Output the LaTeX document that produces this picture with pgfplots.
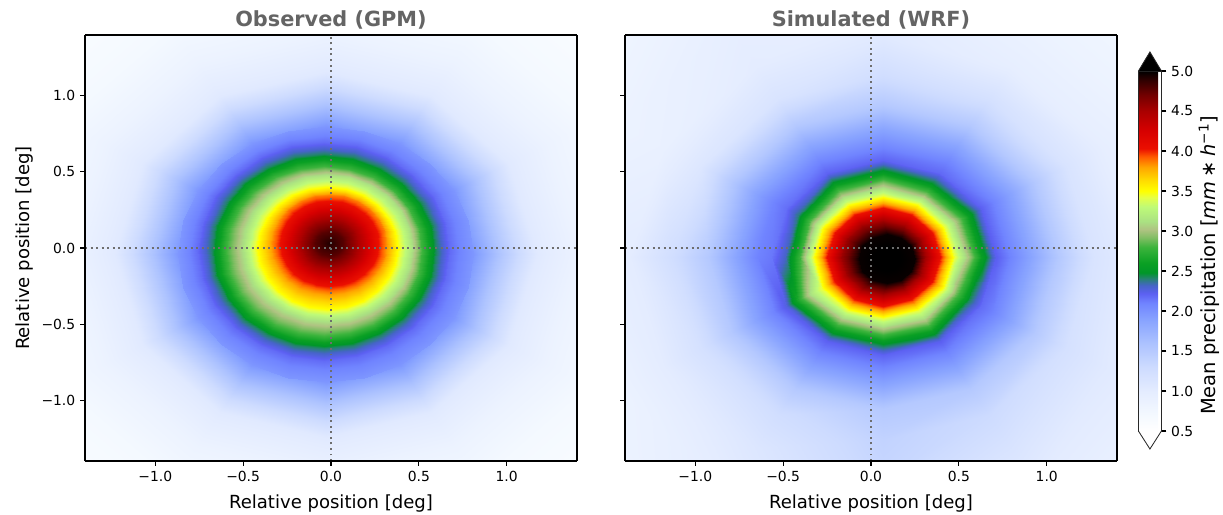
\documentclass[border=0pt]{standalone}
\usepackage{fontspec}
\setmainfont{DejaVu Sans}
\usepackage{pgfplots}
\usepackage{pgfplotstable}
\pgfplotsset{compat=1.18}

\definecolor{titlegray}{RGB}{100,100,100}
\definecolor{crossgray}{RGB}{110,110,110}
\definecolor{framegray}{RGB}{40,40,40}

% precipitation colour scale, positions in hundredths of mm/h
\pgfplotsset{
  colormap={precip}{
    rgb255(50pt)=(255,255,255)
    rgb255(70pt)=(244,249,255)
    rgb255(100pt)=(228,236,255)
    rgb255(130pt)=(205,219,255)
    rgb255(160pt)=(172,194,255)
    rgb255(190pt)=(135,162,255)
    rgb255(210pt)=(112,132,255)
    rgb255(222pt)=(92,96,242)
    rgb255(232pt)=(70,100,200)
    rgb255(240pt)=(40,128,120)
    rgb255(248pt)=(0,150,40)
    rgb255(260pt)=(10,160,35)
    rgb255(280pt)=(60,180,60)
    rgb255(292pt)=(130,190,100)
    rgb255(302pt)=(175,195,130)
    rgb255(312pt)=(170,225,130)
    rgb255(330pt)=(190,250,120)
    rgb255(342pt)=(230,255,70)
    rgb255(350pt)=(255,255,0)
    rgb255(365pt)=(255,215,0)
    rgb255(380pt)=(255,165,0)
    rgb255(393pt)=(255,90,0)
    rgb255(403pt)=(235,15,0)
    rgb255(425pt)=(215,0,0)
    rgb255(450pt)=(170,0,0)
    rgb255(470pt)=(115,0,0)
    rgb255(488pt)=(50,0,0)
    rgb255(500pt)=(0,0,0)
  },
}

% GPM composite, core: rings of 25 points (closed), centre outwards
\pgfplotstableread{
x y v
-0.01 0.03 4.92
-0.01 0.03 4.92
-0.01 0.03 4.92
-0.01 0.03 4.92
-0.01 0.03 4.92
-0.01 0.03 4.92
-0.01 0.03 4.92
-0.01 0.03 4.92
-0.01 0.03 4.92
-0.01 0.03 4.92
-0.01 0.03 4.92
-0.01 0.03 4.92
-0.01 0.03 4.92
-0.01 0.03 4.92
-0.01 0.03 4.92
-0.01 0.03 4.92
-0.01 0.03 4.92
-0.01 0.03 4.92
-0.01 0.03 4.92
-0.01 0.03 4.92
-0.01 0.03 4.92
-0.01 0.03 4.92
-0.01 0.03 4.92
-0.01 0.03 4.92
-0.01 0.03 4.92
0.07 0.03 4.78
0.0673 0.0507 4.78
0.0593 0.07 4.78
0.0466 0.0866 4.78
0.03 0.0993 4.78
0.0107 0.1073 4.78
-0.01 0.11 4.78
-0.0307 0.1073 4.78
-0.05 0.0993 4.78
-0.0666 0.0866 4.78
-0.0793 0.07 4.78
-0.0873 0.0507 4.78
-0.09 0.03 4.78
-0.0873 0.0093 4.78
-0.0793 -0.01 4.78
-0.0666 -0.0266 4.78
-0.05 -0.0393 4.78
-0.0307 -0.0473 4.78
-0.01 -0.05 4.78
0.0107 -0.0473 4.78
0.03 -0.0393 4.78
0.0466 -0.0266 4.78
0.0593 -0.01 4.78
0.0673 0.0093 4.78
0.07 0.03 4.78
0.15 0.03 4.52
0.1445 0.0714 4.52
0.1286 0.11 4.52
0.1031 0.1431 4.52
0.07 0.1686 4.52
0.0314 0.1845 4.52
-0.01 0.19 4.52
-0.0514 0.1845 4.52
-0.09 0.1686 4.52
-0.1231 0.1431 4.52
-0.1486 0.11 4.52
-0.1645 0.0714 4.52
-0.17 0.03 4.52
-0.1645 -0.0114 4.52
-0.1486 -0.05 4.52
-0.1231 -0.0831 4.52
-0.09 -0.1086 4.52
-0.0514 -0.1245 4.52
-0.01 -0.13 4.52
0.0314 -0.1245 4.52
0.07 -0.1086 4.52
0.1031 -0.0831 4.52
0.1286 -0.05 4.52
0.1445 -0.0114 4.52
0.15 0.03 4.52
0.23 0.03 4.20
0.2218 0.0921 4.20
0.1978 0.15 4.20
0.1597 0.1997 4.20
0.11 0.2378 4.20
0.0521 0.2618 4.20
-0.01 0.27 4.20
-0.0721 0.2618 4.20
-0.13 0.2378 4.20
-0.1797 0.1997 4.20
-0.2178 0.15 4.20
-0.2418 0.0921 4.20
-0.25 0.03 4.20
-0.2418 -0.0321 4.20
-0.2178 -0.09 4.20
-0.1797 -0.1397 4.20
-0.13 -0.1778 4.20
-0.0721 -0.2018 4.20
-0.01 -0.21 4.20
0.0521 -0.2018 4.20
0.11 -0.1778 4.20
0.1597 -0.1397 4.20
0.1978 -0.09 4.20
0.2218 -0.0321 4.20
0.23 0.03 4.20
0.31 0.03 3.87
0.2991 0.1128 3.87
0.2671 0.19 3.87
0.2163 0.2563 3.87
0.15 0.3071 3.87
0.0728 0.3391 3.87
-0.01 0.35 3.87
-0.0928 0.3391 3.87
-0.17 0.3071 3.87
-0.2363 0.2563 3.87
-0.2871 0.19 3.87
-0.3191 0.1128 3.87
-0.33 0.03 3.87
-0.3191 -0.0528 3.87
-0.2871 -0.13 3.87
-0.2363 -0.1963 3.87
-0.17 -0.2471 3.87
-0.0928 -0.2791 3.87
-0.01 -0.29 3.87
0.0728 -0.2791 3.87
0.15 -0.2471 3.87
0.2163 -0.1963 3.87
0.2671 -0.13 3.87
0.2991 -0.0528 3.87
0.31 0.03 3.87
0.38 0 3.50
0.3664 0.1035 3.50
0.3264 0.2 3.50
0.2628 0.2828 3.50
0.18 0.3464 3.50
0.0835 0.3864 3.50
-0.02 0.4 3.50
-0.1235 0.3864 3.50
-0.22 0.3464 3.50
-0.3028 0.2828 3.50
-0.3664 0.2 3.50
-0.4064 0.1035 3.50
-0.42 0 3.50
-0.4064 -0.1035 3.50
-0.3664 -0.2 3.50
-0.3028 -0.2828 3.50
-0.22 -0.3464 3.50
-0.1235 -0.3864 3.50
-0.02 -0.4 3.50
0.0835 -0.3864 3.50
0.18 -0.3464 3.50
0.2628 -0.2828 3.50
0.3264 -0.2 3.50
0.3664 -0.1035 3.50
0.38 0 3.50
0.46 0 3.13
0.4436 0.1242 3.13
0.3957 0.24 3.13
0.3194 0.3394 3.13
0.22 0.4157 3.13
0.1042 0.4636 3.13
-0.02 0.48 3.13
-0.1442 0.4636 3.13
-0.26 0.4157 3.13
-0.3594 0.3394 3.13
-0.4357 0.24 3.13
-0.4836 0.1242 3.13
-0.5 0 3.13
-0.4836 -0.1242 3.13
-0.4357 -0.24 3.13
-0.3594 -0.3394 3.13
-0.26 -0.4157 3.13
-0.1442 -0.4636 3.13
-0.02 -0.48 3.13
0.1042 -0.4636 3.13
0.22 -0.4157 3.13
0.3194 -0.3394 3.13
0.3957 -0.24 3.13
0.4436 -0.1242 3.13
0.46 0 3.13
0.52 -0.02 2.80
0.5009 0.1249 2.80
0.445 0.26 2.80
0.356 0.376 2.80
0.24 0.465 2.80
0.1049 0.5209 2.80
-0.04 0.54 2.80
-0.1849 0.5209 2.80
-0.32 0.465 2.80
-0.436 0.376 2.80
-0.525 0.26 2.80
-0.5809 0.1249 2.80
-0.6 -0.02 2.80
-0.5809 -0.1649 2.80
-0.525 -0.30 2.80
-0.436 -0.416 2.80
-0.32 -0.505 2.80
-0.1849 -0.5609 2.80
-0.04 -0.58 2.80
0.1049 -0.5609 2.80
0.24 -0.505 2.80
0.356 -0.416 2.80
0.445 -0.30 2.80
0.5009 -0.1649 2.80
0.52 -0.02 2.80
0.60 -0.02 2.42
0.5782 0.1456 2.42
0.5142 0.30 2.42
0.4125 0.4325 2.42
0.28 0.5342 2.42
0.1256 0.5982 2.42
-0.04 0.62 2.42
-0.2056 0.5982 2.42
-0.36 0.5342 2.42
-0.4925 0.4325 2.42
-0.5942 0.30 2.42
-0.6582 0.1456 2.42
-0.68 -0.02 2.42
-0.6582 -0.1856 2.42
-0.5942 -0.34 2.42
-0.4925 -0.4725 2.42
-0.36 -0.5742 2.42
-0.2056 -0.6382 2.42
-0.04 -0.66 2.42
0.1256 -0.6382 2.42
0.28 -0.5742 2.42
0.4125 -0.4725 2.42
0.5142 -0.34 2.42
0.5782 -0.1856 2.42
0.60 -0.02 2.42
0.68 -0.02 2.18
0.6554 0.1663 2.18
0.5835 0.34 2.18
0.4691 0.4891 2.18
0.32 0.6035 2.18
0.1463 0.6754 2.18
-0.04 0.70 2.18
-0.2263 0.6754 2.18
-0.40 0.6035 2.18
-0.5491 0.4891 2.18
-0.6635 0.34 2.18
-0.7354 0.1663 2.18
-0.76 -0.02 2.18
-0.7354 -0.2063 2.18
-0.6635 -0.38 2.18
-0.5491 -0.5291 2.18
-0.40 -0.6435 2.18
-0.2263 -0.7154 2.18
-0.04 -0.74 2.18
0.1463 -0.7154 2.18
0.32 -0.6435 2.18
0.4691 -0.5291 2.18
0.5835 -0.38 2.18
0.6554 -0.2063 2.18
0.68 -0.02 2.18
0.81 -0.04 1.98
0.7814 0.1774 1.98
0.6974 0.38 1.98
0.564 0.554 1.98
0.39 0.6874 1.98
0.1874 0.7714 1.98
-0.03 0.80 1.98
-0.2474 0.7714 1.98
-0.45 0.6874 1.98
-0.624 0.554 1.98
-0.7574 0.38 1.98
-0.8414 0.1774 1.98
-0.87 -0.04 1.98
-0.8414 -0.2574 1.98
-0.7574 -0.46 1.98
-0.624 -0.634 1.98
-0.45 -0.7674 1.98
-0.2474 -0.8514 1.98
-0.03 -0.88 1.98
0.1874 -0.8514 1.98
0.39 -0.7674 1.98
0.564 -0.634 1.98
0.6974 -0.46 1.98
0.7814 -0.2574 1.98
0.81 -0.04 1.98
}\gpmcore

% GPM composite, outer field: rings of 13 points (closed)
\pgfplotstableread{
x y v
0.81 -0.04 1.98
0.6974 0.38 1.98
0.39 0.6874 1.98
-0.03 0.8 1.98
-0.45 0.6874 1.98
-0.7574 0.38 1.98
-0.87 -0.04 1.98
-0.7574 -0.46 1.98
-0.45 -0.7674 1.98
-0.03 -0.88 1.98
0.39 -0.7674 1.98
0.6974 -0.46 1.98
0.81 -0.04 1.98
0.97 -0.04 1.55
0.836 0.46 1.55
0.47 0.826 1.55
-0.03 0.96 1.55
-0.53 0.826 1.55
-0.896 0.46 1.55
-1.03 -0.04 1.55
-0.896 -0.54 1.55
-0.53 -0.906 1.55
-0.03 -1.04 1.55
0.47 -0.906 1.55
0.836 -0.54 1.55
0.97 -0.04 1.55
1.17 -0.04 1.05
1.0092 0.56 1.05
0.57 0.9992 1.05
-0.03 1.16 1.05
-0.63 0.9992 1.05
-1.0692 0.56 1.05
-1.23 -0.04 1.05
-1.0692 -0.64 1.05
-0.63 -1.0792 1.05
-0.03 -1.24 1.05
0.57 -1.0792 1.05
1.0092 -0.64 1.05
1.17 -0.04 1.05
1.42 -0.04 0.85
1.2257 0.685 0.85
0.695 1.2157 0.85
-0.03 1.41 0.85
-0.755 1.2157 0.85
-1.2857 0.685 0.85
-1.48 -0.04 0.85
-1.2857 -0.765 0.85
-0.755 -1.2957 0.85
-0.03 -1.49 0.85
0.695 -1.2957 0.85
1.2257 -0.765 0.85
1.42 -0.04 0.85
1.72 -0.04 0.70
1.4855 0.835 0.70
0.845 1.4755 0.70
-0.03 1.71 0.70
-0.905 1.4755 0.70
-1.5455 0.835 0.70
-1.78 -0.04 0.70
-1.5455 -0.915 0.70
-0.905 -1.5555 0.70
-0.03 -1.79 0.70
0.845 -1.5555 0.70
1.4855 -0.915 0.70
1.72 -0.04 0.70
2.17 -0.04 0.60
1.8752 1.06 0.60
1.07 1.8652 0.60
-0.03 2.16 0.60
-1.13 1.8652 0.60
-1.9352 1.06 0.60
-2.23 -0.04 0.60
-1.9352 -1.14 0.60
-1.13 -1.9452 0.60
-0.03 -2.24 0.60
1.07 -1.9452 0.60
1.8752 -1.14 0.60
2.17 -0.04 0.60
}\gpmouter

% WRF composite: rings of 13 points (closed), centre outwards
\pgfplotstableread{
x y v
0.09 -0.07 5.5
0.09 -0.07 5.5
0.09 -0.07 5.5
0.09 -0.07 5.5
0.09 -0.07 5.5
0.09 -0.07 5.5
0.09 -0.07 5.5
0.09 -0.07 5.5
0.09 -0.07 5.5
0.09 -0.07 5.5
0.09 -0.07 5.5
0.09 -0.07 5.5
0.09 -0.07 5.5
0.17 -0.07 5.25
0.1593 -0.03 5.25
0.13 -0.0007 5.25
0.09 0.01 5.25
0.05 -0.0007 5.25
0.0207 -0.03 5.25
0.01 -0.07 5.25
0.0207 -0.11 5.25
0.05 -0.1393 5.25
0.09 -0.15 5.25
0.13 -0.1393 5.25
0.1593 -0.11 5.25
0.17 -0.07 5.25
0.25 -0.07 4.98
0.2286 0.01 4.98
0.17 0.0686 4.98
0.09 0.09 4.98
0.01 0.0686 4.98
-0.0486 0.01 4.98
-0.07 -0.07 4.98
-0.0486 -0.15 4.98
0.01 -0.2086 4.98
0.09 -0.23 4.98
0.17 -0.2086 4.98
0.2286 -0.15 4.98
0.25 -0.07 4.98
0.31 -0.06 4.55
0.2778 0.06 4.55
0.19 0.1478 4.55
0.07 0.18 4.55
-0.05 0.1478 4.55
-0.1378 0.06 4.55
-0.17 -0.06 4.55
-0.1378 -0.18 4.55
-0.05 -0.2678 4.55
0.07 -0.3 4.55
0.19 -0.2678 4.55
0.2778 -0.18 4.55
0.31 -0.06 4.55
0.39 -0.06 4.05
0.3471 0.1 4.05
0.23 0.2171 4.05
0.07 0.26 4.05
-0.09 0.2171 4.05
-0.2071 0.1 4.05
-0.25 -0.06 4.05
-0.2071 -0.22 4.05
-0.09 -0.3371 4.05
0.07 -0.38 4.05
0.23 -0.3371 4.05
0.3471 -0.22 4.05
0.39 -0.06 4.05
0.47 -0.06 3.45
0.4164 0.14 3.45
0.27 0.2864 3.45
0.07 0.34 3.45
-0.13 0.2864 3.45
-0.2764 0.14 3.45
-0.33 -0.06 3.45
-0.2764 -0.26 3.45
-0.13 -0.4064 3.45
0.07 -0.46 3.45
0.27 -0.4064 3.45
0.4164 -0.26 3.45
0.47 -0.06 3.45
0.55 -0.06 3.02
0.4857 0.18 3.00
0.31 0.3557 2.92
0.07 0.42 2.98
-0.17 0.3557 2.96
-0.3457 0.18 2.84
-0.41 -0.06 2.77
-0.3457 -0.3 3.12
-0.17 -0.4757 3.00
0.07 -0.54 2.98
0.31 -0.4757 3.04
0.4857 -0.3 2.88
0.55 -0.06 3.02
0.63 -0.06 2.57
0.555 0.22 2.55
0.35 0.425 2.47
0.07 0.5 2.53
-0.21 0.425 2.51
-0.415 0.22 2.39
-0.49 -0.06 2.32
-0.415 -0.34 2.67
-0.21 -0.545 2.55
0.07 -0.62 2.53
0.35 -0.545 2.59
0.555 -0.34 2.43
0.63 -0.06 2.57
0.71 -0.06 2.23
0.6242 0.26 2.22
0.39 0.4942 2.19
0.07 0.58 2.21
-0.25 0.4942 2.21
-0.4842 0.26 2.17
-0.57 -0.06 2.14
-0.4842 -0.38 2.26
-0.25 -0.6142 2.22
0.07 -0.7 2.21
0.39 -0.6142 2.23
0.6242 -0.38 2.18
0.71 -0.06 2.23
0.79 -0.06 2.10
0.6935 0.3 2.10
0.43 0.5635 2.10
0.07 0.66 2.10
-0.29 0.5635 2.10
-0.5535 0.3 2.10
-0.65 -0.06 2.10
-0.5535 -0.42 2.10
-0.29 -0.6835 2.10
0.07 -0.78 2.10
0.43 -0.6835 2.10
0.6935 -0.42 2.10
0.79 -0.06 2.10
0.91 -0.06 1.88
0.7974 0.36 1.88
0.49 0.6674 1.88
0.07 0.78 1.88
-0.35 0.6674 1.88
-0.6574 0.36 1.88
-0.77 -0.06 1.88
-0.6574 -0.48 1.88
-0.35 -0.7874 1.88
0.07 -0.9 1.88
0.49 -0.7874 1.88
0.7974 -0.48 1.88
0.91 -0.06 1.88
1.07 -0.06 1.52
0.936 0.44 1.52
0.57 0.806 1.52
0.07 0.94 1.52
-0.43 0.806 1.52
-0.796 0.44 1.52
-0.93 -0.06 1.52
-0.796 -0.56 1.52
-0.43 -0.926 1.52
0.07 -1.06 1.52
0.57 -0.926 1.52
0.936 -0.56 1.52
1.07 -0.06 1.52
1.27 -0.06 1.15
1.1092 0.54 1.15
0.67 0.9792 1.20
0.07 1.14 1.25
-0.53 0.9792 1.15
-0.9692 0.54 1.10
-1.13 -0.06 1.25
-0.9692 -0.66 1.20
-0.53 -1.0992 1.25
0.07 -1.26 1.40
0.67 -1.0992 1.30
1.1092 -0.66 1.20
1.27 -0.06 1.15
1.52 -0.06 1.00
1.3257 0.665 0.95
0.795 1.1957 0.95
0.07 1.39 1.05
-0.655 1.1957 1.00
-1.1857 0.665 0.90
-1.38 -0.06 1.00
-1.1857 -0.785 1.00
-0.655 -1.3157 1.10
0.07 -1.51 1.35
0.795 -1.3157 1.15
1.3257 -0.785 1.05
1.52 -0.06 1.00
1.82 -0.06 0.95
1.5855 0.815 0.85
0.945 1.4555 0.85
0.07 1.69 0.90
-0.805 1.4555 0.95
-1.4455 0.815 0.85
-1.68 -0.06 0.90
-1.4455 -0.935 0.85
-0.805 -1.5755 1.00
0.07 -1.81 1.20
0.945 -1.5755 1.00
1.5855 -0.935 0.95
1.82 -0.06 0.95
2.27 -0.06 0.80
1.9752 1.04 0.75
1.17 1.8452 0.75
0.07 2.14 0.85
-1.03 1.8452 0.85
-1.8352 1.04 0.75
-2.13 -0.06 0.75
-1.8352 -1.16 0.75
-1.03 -1.9652 0.85
0.07 -2.26 1.00
1.17 -1.9652 0.85
1.9752 -1.16 0.80
2.27 -0.06 0.80
}\wrffield

\begin{document}
\begin{tikzpicture}
\pgfplotsset{
  panel/.style={
    view={0}{90},
    scale only axis,
    width=354.24pt, height=306.72pt,
    xmin=-1.4, xmax=1.4, ymin=-1.4, ymax=1.4,
    colormap name=precip,
    point meta min=0.5, point meta max=5,
    xtick={-1,-0.5,0,0.5,1},
    ytick={-1,-0.5,0,0.5,1},
    xticklabels={−1.0,−0.5,0.0,0.5,1.0},
    ztick=\empty,
    tick align=outside,
    tick pos=left,
    major tick length=3.5pt,
    every tick/.style={black, line width=0.8pt},
    axis line style={black, line width=0.8pt},
    tick label style={font=\fontsize{10}{12}\selectfont},
    xlabel={Relative position [deg]},
    every axis x label/.style={at={(axis description cs:0.5,0)}, anchor=north,
      inner sep=0pt, yshift=-23.8pt, font=\fontsize{13}{15}\selectfont},
    every axis title/.style={at={(axis description cs:0.5,1)}, anchor=south,
      inner sep=0pt, yshift=3.6pt, font=\fontsize{15}{18}\selectfont\bfseries,
      text=titlegray},
  },
  field/.style={surf, shader=interp},
  crossline/.style={crossgray, line width=1.4pt, dash pattern=on 1.4pt off 2.6pt},
}

\begin{axis}[panel, name=gpm,
  title={Observed (GPM)},
  yticklabels={−1.0,−0.5,0.0,0.5,1.0},
  ylabel={Relative position [deg]},
  every axis y label/.style={at={(axis description cs:-0.122,0.5)}, anchor=center,
    rotate=90, font=\fontsize{13}{15}\selectfont},
]
\addplot3[field, mesh/cols=13] table[x=x, y=y, z=v] {\gpmouter};
\addplot3[field, mesh/cols=25] table[x=x, y=y, z=v] {\gpmcore};
\addplot3[crossline] coordinates {(0,-1.4,6) (0,1.4,6)};
\addplot3[crossline] coordinates {(-1.4,0,6) (1.4,0,6)};
\end{axis}

\begin{axis}[panel, name=wrf,
  at={(388.8pt,0pt)}, anchor=south west,
  title={Simulated (WRF)},
  yticklabels={},
  colorbar,
  colorbar style={
    xshift=6.5pt, yshift=-25.92pt,
    scale only axis,
    width=16.56pt, height=259.2pt,
    ytick={0.5,1,1.5,2,2.5,3,3.5,4,4.5,5},
    yticklabels={0.5,1.0,1.5,2.0,2.5,3.0,3.5,4.0,4.5,5.0},
    ytick pos=right, yticklabel pos=right,
    tick align=outside,
    major tick length=3.5pt,
    every tick/.style={black, line width=0.8pt},
    axis line style={framegray, line width=0.6pt},
    tick label style={font=\fontsize{10}{12}\selectfont},
    ylabel={Mean precipitation [\textit{mm}\hspace{0.22em}∗\hspace{0.22em}\textit{h}\textsuperscript{−1}]},
    every axis y label/.style={at={(axis description cs:3.08,0.46)}, anchor=center,
      rotate=90, font=\fontsize{14}{16}\selectfont},
    extra description/.code={
      \fill[black] (axis description cs:0,1) -- (axis description cs:0.5,1.053)
        -- (axis description cs:1,1) -- cycle;
      \draw[framegray, line width=0.6pt] (axis description cs:0,1)
        -- (axis description cs:0.5,1.053) -- (axis description cs:1,1);
      \draw[framegray, line width=0.6pt, fill=white] (axis description cs:0,0)
        -- (axis description cs:0.5,-0.05) -- (axis description cs:1,0);
    },
  },
]
\addplot3[field, mesh/cols=13] table[x=x, y=y, z=v] {\wrffield};
\addplot3[crossline] coordinates {(0,-1.4,6) (0,1.4,6)};
\addplot3[crossline] coordinates {(-1.4,0,6) (1.4,0,6)};
\end{axis}

\pgfresetboundingbox
\path[use as bounding box] (-61.2pt,-38.16pt) rectangle (819.36pt,331.92pt);
\end{tikzpicture}
\end{document}
